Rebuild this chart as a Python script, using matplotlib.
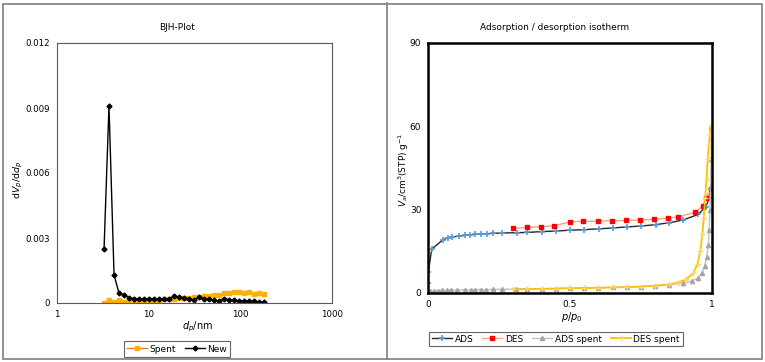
import numpy as np
import matplotlib
matplotlib.use("Agg")
import matplotlib.pyplot as plt
from matplotlib.patches import Rectangle
from matplotlib.lines import Line2D

# BJH plot data (pore diameter in nm)
d_pore = [3.26, 3.69, 4.19, 4.75, 5.38, 6.1, 6.9, 7.8, 8.9, 10.1, 11.4, 12.9, 14.6,
          16.6, 18.8, 21.3, 24.2, 27.4, 31.0, 35.2, 39.9, 45.2, 51.2, 58.0, 65.8,
          74.6, 84.5, 95.8, 108.6, 123.0, 139.5, 158.0, 181.0]
dv_new = [0.00248, 0.00910, 0.00130, 0.00045, 0.00038, 0.00024, 0.00020, 0.00019,
          0.00018, 0.00019, 0.00019, 0.00018, 0.00018, 0.00017, 0.00032, 0.00027,
          0.00024, 0.00020, 0.00012, 0.00026, 0.00020, 0.00017, 0.00012, 0.00010,
          0.00019, 0.00016, 0.00012, 0.00011, 0.00010, 0.00009, 0.00007, 0.00006,
          0.00005]
dv_spent = [0.0, 0.00015, 0.00004, 0.00012, 0.00003, 0.00005, 0.00005, 0.00008,
            0.00011, 0.00012, 0.00014, 0.00015, 0.00017, 0.00020, 0.00020, 0.00022,
            0.00023, 0.00025, 0.00026, 0.00028, 0.00031, 0.00034, 0.00036, 0.00039,
            0.00045, 0.00047, 0.00049, 0.00050, 0.00048, 0.00052, 0.00042, 0.00045,
            0.00041]

# isotherm data
p_ads = [0.0, 0.0, 0.0, 0.012, 0.051, 0.068, 0.083, 0.109, 0.13, 0.147, 0.165, 0.186,
         0.206, 0.23, 0.261, 0.312, 0.35, 0.4, 0.451, 0.5, 0.551, 0.602, 0.651, 0.7,
         0.751, 0.803, 0.851, 0.9, 0.953, 0.979, 0.992, 0.997]
v_ads = [0.4, 3.4, 7.4, 15.7, 19.0, 19.7, 20.0, 20.4, 20.6, 20.8, 21.0, 21.1, 21.2,
         21.4, 21.5, 21.6, 21.7, 22.0, 22.2, 22.5, 22.7, 23.0, 23.3, 23.7, 24.0, 24.5,
         25.2, 26.2, 28.2, 31.0, 34.0, 37.4]
p_des = [0.298, 0.35, 0.398, 0.445, 0.5, 0.547, 0.598, 0.647, 0.697, 0.747, 0.797,
         0.847, 0.88, 0.941, 0.968, 0.98, 0.997]
v_des = [23.2, 23.5, 23.8, 24.1, 25.5, 25.7, 25.8, 25.9, 26.0, 26.2, 26.4, 26.9, 27.2,
         29.0, 31.2, 34.0, 37.4]
p_ads_spent = [0.0, 0.005, 0.02, 0.035, 0.05, 0.065, 0.08, 0.1, 0.13, 0.15, 0.165,
               0.185, 0.205, 0.23, 0.26, 0.31, 0.35, 0.4, 0.45, 0.5, 0.55, 0.6, 0.65,
               0.7, 0.75, 0.8, 0.85, 0.9, 0.93, 0.95, 0.965, 0.975, 0.983, 0.988,
               0.991, 0.994, 0.996, 0.998, 0.999]
v_ads_spent = [0.2, 0.5, 0.6, 0.7, 0.8, 0.8, 0.9, 0.9, 1.0, 1.0, 1.1, 1.1, 1.1, 1.2,
               1.2, 1.3, 1.3, 1.4, 1.5, 1.6, 1.7, 1.8, 1.9, 2.0, 2.2, 2.5, 2.9, 3.4,
               4.2, 5.2, 7.0, 9.5, 13.0, 17.0, 22.6, 29.8, 38.0, 48.0, 59.8]
p_des_spent = [0.3, 0.35, 0.4, 0.45, 0.5, 0.55, 0.6, 0.65, 0.7, 0.75, 0.8, 0.85, 0.88,
               0.91, 0.935, 0.95, 0.96, 0.967, 0.972, 0.977, 0.982, 0.986, 0.99, 0.994,
               0.997]
v_des_spent = [1.2, 1.3, 1.4, 1.5, 1.6, 1.7, 1.8, 1.9, 2.0, 2.2, 2.5, 3.0, 3.6, 4.8,
               7.0, 10.5, 15.0, 21.0, 27.0, 34.0, 41.0, 48.0, 53.0, 57.0, 60.0]

W, H = 765, 362
fig = plt.figure(figsize=(W / 100, H / 100), dpi=100)
fs = 6.5


def px(x0, y0, x1, y1):
    # pixel box -> figure fraction [left, bottom, width, height]
    return [x0 / W, 1 - y1 / H, (x1 - x0) / W, (y1 - y0) / H]


# outer frame and divider
fig.patches.append(Rectangle((3 / W, 3 / H), 759 / W, 355 / H, transform=fig.transFigure,
                             fill=False, edgecolor="#7f7f7f", linewidth=1.2))
fig.lines.append(Line2D([387 / W, 387 / W], [3 / H, 1 - 3 / H], transform=fig.transFigure,
                        color="#7f7f7f", linewidth=1.2))

# ---- left: BJH plot
ax1 = fig.add_axes(px(57, 43, 332, 303))
ax1.plot(d_pore, dv_spent, color="#ED7D31", linewidth=1.0, marker="s", markersize=3.2,
         markerfacecolor="#FFB000", markeredgecolor="#FFB000", label="Spent")
ax1.plot(d_pore, dv_new, color="black", linewidth=1.0, marker="D", markersize=2.5,
         label="New")
ax1.set_xscale("log")
ax1.set_xlim(1, 1000)
ax1.set_ylim(0, 0.012)
ax1.set_xticks([1, 10, 100, 1000])
ax1.set_xticklabels(["1", "10", "100", "1000"])
ax1.xaxis.set_minor_locator(matplotlib.ticker.NullLocator())
ax1.set_yticks([0, 0.003, 0.006, 0.009, 0.012])
ax1.set_yticklabels(["0", "0.003", "0.006", "0.009", "0.012"])
ax1.tick_params(length=0, labelsize=6.2, pad=5)
for s in ax1.spines.values():
    s.set_color("#595959")
    s.set_linewidth(0.8)
fig.text(177 / W, 1 - 28 / H, "BJH-Plot", ha="center", va="center", fontsize=fs)
fig.text(197 / W, 1 - 327 / H, r"$d_p$/nm", ha="center", va="center", fontsize=7)
fig.text(18 / W, 1 - 180 / H, r"d$V_p$/d$d_p$", ha="center", va="center", fontsize=6.8,
         rotation=90)
leg1 = fig.legend(handles=ax1.get_lines(), loc="center", ncol=2,
                  bbox_to_anchor=(177 / W, 1 - 349 / H), fontsize=fs, frameon=True,
                  fancybox=False, edgecolor="#404040", handlelength=2.2,
                  columnspacing=1.0, handletextpad=0.3, borderpad=0.35)
leg1.get_frame().set_linewidth(0.8)

# ---- right: isotherm
ax2 = fig.add_axes(px(428.3, 42.7, 711.7, 292.7))
ax2.plot(p_ads, v_ads, color="#262626", linewidth=1.0, marker="+", markersize=4,
         markeredgecolor="#5B9BD5", markeredgewidth=1.2, label="ADS")
ax2.plot(p_des, v_des, color="#F4A582", linewidth=1.0, marker="s", markersize=3.5,
         markerfacecolor="#FF0000", markeredgecolor="#FF0000", label="DES")
ax2.plot(p_ads_spent, v_ads_spent, color="#BFBFBF", linewidth=1.0, marker="^",
         markersize=3, markerfacecolor="#A5A5A5", markeredgecolor="#A5A5A5",
         label="ADS spent")
ax2.plot(p_des_spent, v_des_spent, color="#FFC000", linewidth=1.3, marker="+",
         markersize=4, markeredgecolor="#FFD966", label="DES spent")
ax2.set_xlim(0, 1)
ax2.set_ylim(0, 90)
ax2.set_xticks([0, 0.5, 1])
ax2.set_xticklabels(["0", "0.5", "1"])
ax2.set_yticks([0, 30, 60, 90])
ax2.tick_params(length=0, labelsize=fs, pad=5)
for s in ax2.spines.values():
    s.set_color("black")
    s.set_linewidth(1.8)
fig.text(555 / W, 1 - 28 / H, "Adsorption / desorption isotherm", ha="center",
         va="center", fontsize=fs)
fig.text(572 / W, 1 - 317 / H, r"$p$/$p_0$", ha="center", va="center", fontsize=7)
fig.text(404 / W, 1 - 170 / H, r"$V_a$/cm$^3$(STP) g$^{-1}$", ha="center", va="center",
         fontsize=6.5, rotation=90)
leg2 = fig.legend(handles=ax2.get_lines(), loc="center", ncol=4,
                  bbox_to_anchor=(556 / W, 1 - 339 / H), fontsize=fs, frameon=True,
                  fancybox=False, edgecolor="#404040", handlelength=2.2,
                  columnspacing=1.0, handletextpad=0.3, borderpad=0.3)
leg2.get_frame().set_linewidth(0.8)

fig.savefig("out.png", dpi=100)
